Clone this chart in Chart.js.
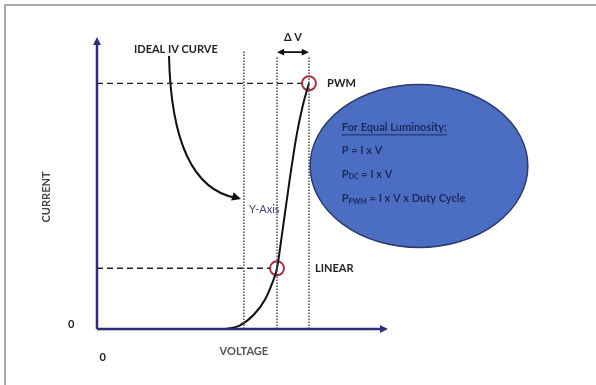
<!DOCTYPE html>
<html>
<head>
<meta charset="utf-8">
<script src="https://cdn.jsdelivr.net/npm/chart.js@4"></script>
<style>
  html, body { margin: 0; padding: 0; background: #fff; }
  #wrap { width: 596px; height: 385px; }
</style>
</head>
<body>
<div id="wrap"><canvas id="graficoIV" width="596" height="385"></canvas></div>
<script>
// CURVA IV (voltaje / corriente, unidades arbitrarias 0..10)
const voltaje = [4.45, 4.95, 5.45, 5.85, 6.08, 6.25, 6.42, 6.68, 6.93, 7.15, 7.36];
const corriente = [0, 0.12, 0.5, 1.05, 1.58, 2.1, 3.25, 5.1, 6.7, 7.75, 8.5];

// PUNTOS DE TRABAJO
const nombresPuntos = ["LINEAR", "PWM"];
const voltajePuntos = [6.25, 7.36];
const corrientePuntos = [2.1, 8.5];

// REFERENCIA "Y-Axis"
const voltajeEjeY = 5.1;

// TEXTOS DEL ÓVALO
const lineasOvalo = [
  [{ t: "For Equal Luminosity:" }],
  [{ t: "P = I x V" }],
  [{ t: "P" }, { t: "DC", sub: true }, { t: " = I x V" }],
  [{ t: "P" }, { t: "PWM", sub: true }, { t: " = I x V x Duty Cycle" }]
];

const NEGRO = "#111";
const AZUL_EJE = "#2e2f78";

const curva = voltaje.map((v, i) => ({ x: v, y: corriente[i] }));

// líneas punteadas verticales
function vertical(x, arriba) {
  return {
    data: [{ x: x, y: 0 }, { x: x, y: arriba }],
    showLine: true,
    borderColor: "#555",
    borderWidth: 1.6,
    borderDash: [1.4, 1.6],
    pointRadius: 0,
    clip: false
  };
}

// líneas de trazos horizontales hasta cada punto
function horizontal(x, y) {
  return {
    data: [{ x: 0, y: y }, { x: x - 0.25, y: y }],
    showLine: true,
    borderColor: "#222",
    borderWidth: 1.4,
    borderDash: [6, 4],
    pointRadius: 0,
    clip: false
  };
}

function fuente(peso, tam) {
  return peso + " " + tam + "px Lato, 'Open Sans', sans-serif";
}

function flecha(ctx, x1, y1, x2, y2, tam) {
  const a = Math.atan2(y2 - y1, x2 - x1);
  ctx.beginPath();
  ctx.moveTo(x2, y2);
  ctx.lineTo(x2 - tam * Math.cos(a - 0.45), y2 - tam * Math.sin(a - 0.45));
  ctx.lineTo(x2 - tam * Math.cos(a + 0.45), y2 - tam * Math.sin(a + 0.45));
  ctx.closePath();
  ctx.fill();
}

function texto(ctx, t, x, y, opts) {
  ctx.save();
  ctx.font = fuente(opts.peso || "bold", opts.tam || 11);
  ctx.fillStyle = opts.color || "#222";
  ctx.textAlign = opts.align || "left";
  ctx.textBaseline = "middle";
  ctx.fillText(t, x, y);
  ctx.restore();
}

// DIBUJO DE EJES, FLECHAS, ÓVALO Y TEXTOS
const decorado = {
  id: "decorado",
  beforeDraw(chart) {
    const ctx = chart.ctx;
    ctx.save();
    ctx.strokeStyle = "#a9a9a9";
    ctx.lineWidth = 2;
    ctx.beginPath();
    ctx.moveTo(5, chart.height);
    ctx.lineTo(5, 5);
    ctx.lineTo(chart.width, 5);
    ctx.stroke();
    ctx.restore();
  },
  afterDatasetsDraw(chart) {
    const ctx = chart.ctx;
    const sx = chart.scales.x, sy = chart.scales.y;
    const px = v => sx.getPixelForValue(v);
    const py = v => sy.getPixelForValue(v);

    // ejes con flecha
    ctx.save();
    ctx.strokeStyle = AZUL_EJE;
    ctx.fillStyle = AZUL_EJE;
    ctx.lineWidth = 2.5;
    ctx.beginPath();
    ctx.moveTo(px(0), py(0));
    ctx.lineTo(px(0), py(10) + 4);
    ctx.moveTo(px(0), py(0));
    ctx.lineTo(px(10) - 4, py(0));
    ctx.stroke();
    flecha(ctx, px(0), py(5), px(0), py(10) - 3, 9);
    flecha(ctx, px(5), py(0), px(10) + 3, py(0), 9);
    ctx.restore();

    // ΔV
    const yDelta = 9.58;
    ctx.save();
    ctx.strokeStyle = NEGRO;
    ctx.fillStyle = NEGRO;
    ctx.lineWidth = 1.8;
    ctx.beginPath();
    ctx.moveTo(px(voltajePuntos[0]) + 4, py(yDelta));
    ctx.lineTo(px(voltajePuntos[1]) - 4, py(yDelta));
    ctx.stroke();
    flecha(ctx, px(voltajePuntos[1]), py(yDelta), px(voltajePuntos[0]), py(yDelta), 8);
    flecha(ctx, px(voltajePuntos[0]), py(yDelta), px(voltajePuntos[1]), py(yDelta), 8);
    ctx.restore();
    texto(ctx, "Δ V", px((voltajePuntos[0] + voltajePuntos[1]) / 2), py(10.1), { align: "center", color: "#222" });

    // flecha curva desde "IDEAL IV CURVE"
    const a0 = { x: px(2.5), y: py(9.45) };
    const ac = { x: px(2.6), y: py(4.95) };
    const a1 = { x: px(5.0), y: py(4.5) };
    ctx.save();
    ctx.strokeStyle = NEGRO;
    ctx.fillStyle = NEGRO;
    ctx.lineWidth = 2;
    ctx.beginPath();
    ctx.moveTo(a0.x, a0.y);
    ctx.quadraticCurveTo(ac.x, ac.y, a1.x - 5, a1.y - 1);
    ctx.stroke();
    flecha(ctx, ac.x + 40, ac.y + 4, a1.x, a1.y, 10);
    ctx.restore();

    texto(ctx, "IDEAL IV CURVE", px(2.74), py(9.69), { align: "center", color: "#222" });
    texto(ctx, "Y-Axis", px(5.28), py(4.15), { peso: "normal", color: "#45458a" });
    texto(ctx, "PWM", px(7.99), py(corrientePuntos[1]), { color: "#222" });
    texto(ctx, "LINEAR", px(7.57), py(corrientePuntos[0]), { color: "#222" });
    texto(ctx, "0", px(-0.9), py(0.15), { align: "center", color: "#222" });
    texto(ctx, "0", px(0.2), py(-0.97), { align: "center", color: "#222" });
    texto(ctx, "VOLTAGE", px(5.1), py(-0.76), { align: "center", color: "#555" });

    ctx.save();
    ctx.translate(px(-1.74), py(4.57));
    ctx.rotate(-Math.PI / 2);
    texto(ctx, "CURRENT", 0, 0, { align: "center", color: "#444" });
    ctx.restore();

    // óvalo
    const cx = px(11.18), cy = py(5.64);
    const rx = px(11.18 + 3.78) - cx, ry = cy - py(5.64 + 2.82);
    ctx.save();
    ctx.beginPath();
    ctx.ellipse(cx, cy, rx, ry, 0, 0, Math.PI * 2);
    ctx.fillStyle = "#4b6ec3";
    ctx.fill();
    ctx.strokeStyle = "#2a3a6a";
    ctx.lineWidth = 1.5;
    ctx.stroke();
    ctx.restore();

    const filas = [6.96, 6.19, 5.36, 4.5];
    const xTexto = px(8.5);
    ctx.save();
    ctx.fillStyle = "#1c2a5e";
    ctx.textBaseline = "middle";
    lineasOvalo.forEach((partes, i) => {
      let x = xTexto;
      const y = py(filas[i]);
      partes.forEach(p => {
        ctx.font = fuente("bold", p.sub ? 7 : 11);
        ctx.fillText(p.t, x, p.sub ? y + 3 : y);
        x += ctx.measureText(p.t).width;
      });
      if (i === 0) {
        ctx.strokeStyle = "#1c2a5e";
        ctx.lineWidth = 1;
        ctx.beginPath();
        ctx.moveTo(xTexto, y + 7);
        ctx.lineTo(x, y + 7);
        ctx.stroke();
      }
    });
    ctx.restore();
  }
};

const ctx = document.getElementById("graficoIV");

new Chart(ctx, {
  type: "scatter",
  data: {
    datasets: [
      vertical(voltajeEjeY, 9.6),
      vertical(voltajePuntos[0], 9.45),
      vertical(voltajePuntos[1], 9.45),
      horizontal(voltajePuntos[0], corrientePuntos[0]),
      horizontal(voltajePuntos[1], corrientePuntos[1]),
      {
        label: "IV",
        data: curva,
        showLine: true,
        cubicInterpolationMode: "monotone",
        borderColor: NEGRO,
        borderWidth: 2,
        pointRadius: 0,
        clip: false
      },
      {
        label: "Puntos",
        data: voltajePuntos.map((v, i) => ({ x: v, y: corrientePuntos[i], nombre: nombresPuntos[i] })),
        showLine: false,
        pointRadius: 7,
        pointBorderWidth: 2,
        pointBorderColor: "#b3283c",
        pointBackgroundColor: "rgba(255,255,255,0)",
        clip: false
      }
    ]
  },
  options: {
    responsive: false,
    animation: false,
    layout: { padding: { left: 97, right: 211, top: 40, bottom: 56 } },
    scales: {
      x: { type: "linear", min: 0, max: 10, display: false },
      y: { type: "linear", min: 0, max: 10, display: false }
    },
    plugins: {
      legend: { display: false },
      tooltip: { enabled: false }
    }
  },
  plugins: [decorado]
});
</script>
</body>
</html>
